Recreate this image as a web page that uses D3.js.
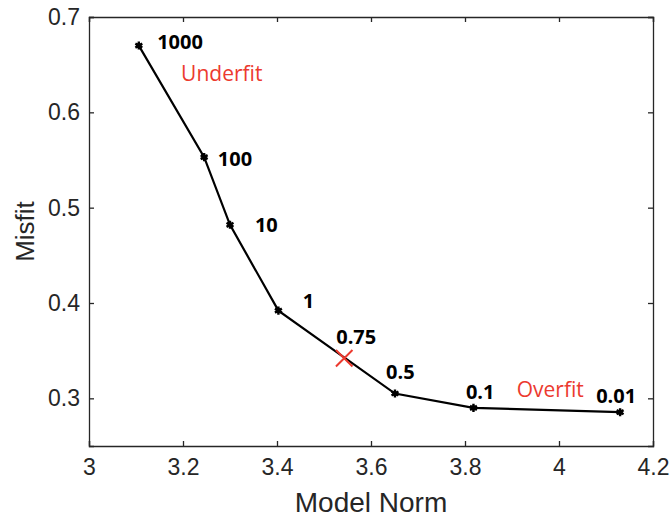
<!DOCTYPE html>
<html>
<head>
<meta charset="utf-8">
<script src="https://cdn.jsdelivr.net/npm/d3@7"></script>
<style>
    body { margin: 0; background: #fff; }
    svg { display: block; }
</style>
</head>
<body>
<div id="chart"></div>
<script>
// L-curve values (model norm vs misfit), one per regularisation weight
var lambdas = ["1000", "100", "10", "1", "0.5", "0.1", "0.01"];
var modelNorm = [3.106, 3.245, 3.300, 3.403, 3.651, 3.818, 4.130];
var misfit = [0.670, 0.553, 0.482, 0.392, 0.305, 0.290, 0.2855];

// chosen point
var chosenLabel = "0.75";
var chosenNorm = 3.543;
var chosenMisfit = 0.342;

// text annotations, placed in data coordinates
var noteText = ["1000", "Underfit", "100", "10", "1", "0.75", "0.5", "0.1", "Overfit", "0.01"];
var noteX = [3.145, 3.196, 3.274, 3.353, 3.455, 3.526, 3.632, 3.802, 3.910, 4.079];
var noteY = [0.666, 0.633, 0.544, 0.475, 0.395, 0.357, 0.320, 0.2996, 0.3017, 0.2954];
var noteRed = [false, true, false, false, false, false, false, false, true, false];

var xTicks = [3, 3.2, 3.4, 3.6, 3.8, 4, 4.2];
var yTicks = [0.3, 0.4, 0.5, 0.6, 0.7];

function draw() {
    var w = 671, h = 518;
    var left = 89, right = 653, top = 17, bottom = 446;
    var axisColor = "#262626";

    var svg = d3.select("#chart").append("svg")
        .attr("width", w)
        .attr("height", h);

    var xScale = d3.scaleLinear().domain([3, 4.2]).range([left, right]);
    var yScale = d3.scaleLinear().domain([0.25, 0.7]).range([bottom, top]);

    // axes with inward ticks (box style)
    var tickLen = 5;
    var xAxis = d3.axisBottom(xScale).tickValues(xTicks).tickSize(-tickLen).tickPadding(13)
        .tickFormat(d3.format("~g"));
    var yAxis = d3.axisLeft(yScale).tickValues(yTicks).tickSize(-tickLen).tickPadding(9)
        .tickFormat(d3.format(".1f"));
    var xTop = d3.axisTop(xScale).tickValues(xTicks).tickSize(-tickLen).tickFormat("");
    var yRight = d3.axisRight(yScale).tickValues(yTicks).tickSize(-tickLen).tickFormat("");

    var gx = svg.append("g").attr("transform", "translate(0," + bottom + ")").call(xAxis);
    var gy = svg.append("g").attr("transform", "translate(" + left + ",0)").call(yAxis);
    var gt = svg.append("g").attr("transform", "translate(0," + top + ")").call(xTop);
    var gr = svg.append("g").attr("transform", "translate(" + right + ",0)").call(yRight);

    [gx, gy, gt, gr].forEach(function (g) {
        g.select(".domain").attr("stroke", axisColor).attr("stroke-width", 1.3);
        g.selectAll(".tick line").attr("stroke", axisColor).attr("stroke-width", 1.3);
        g.selectAll(".tick text")
            .attr("fill", axisColor)
            .style("font-family", "Liberation Sans, Arial, sans-serif")
            .style("font-size", "23px");
    });
    gx.selectAll(".tick text").attr("dy", "0.71em");

    // axis labels
    svg.append("text")
        .attr("x", (left + right) / 2)
        .attr("y", 512)
        .attr("text-anchor", "middle")
        .attr("fill", axisColor)
        .style("font-family", "Liberation Sans, Arial, sans-serif")
        .style("font-size", "28px")
        .text("Model Norm");

    svg.append("text")
        .attr("transform", "translate(34," + ((top + bottom) / 2) + ") rotate(-90)")
        .attr("text-anchor", "middle")
        .attr("fill", axisColor)
        .style("font-family", "Liberation Sans, Arial, sans-serif")
        .style("font-size", "26px")
        .text("Misfit");

    // curve
    var pts = modelNorm.map(function (d, i) { return [d, misfit[i]]; });
    var line = d3.line()
        .x(function (d) { return xScale(d[0]); })
        .y(function (d) { return yScale(d[1]); });

    svg.append("path")
        .datum(pts)
        .attr("d", line)
        .attr("fill", "none")
        .attr("stroke", "#000")
        .attr("stroke-width", 2.2);

    // asterisk markers
    var star = d3.symbol().type(d3.symbolAsterisk).size(45);
    svg.selectAll(".mk")
        .data(pts)
        .enter()
        .append("path")
        .attr("class", "mk")
        .attr("transform", function (d) { return "translate(" + xScale(d[0]) + "," + yScale(d[1]) + ")"; })
        .attr("d", star)
        .attr("fill", "none")
        .attr("stroke", "#000")
        .attr("stroke-width", 2.4);

    svg.selectAll(".dot")
        .data(pts)
        .enter()
        .append("circle")
        .attr("cx", function (d) { return xScale(d[0]); })
        .attr("cy", function (d) { return yScale(d[1]); })
        .attr("r", 2.6)
        .attr("fill", "#000");

    // chosen point
    svg.append("path")
        .attr("transform", "translate(" + xScale(chosenNorm) + "," + yScale(chosenMisfit) + ")")
        .attr("d", d3.symbol().type(d3.symbolX).size(180))
        .attr("fill", "none")
        .attr("stroke", "#ec3a2f")
        .attr("stroke-width", 2);

    // annotations
    svg.selectAll(".note")
        .data(noteText)
        .enter()
        .append("text")
        .attr("class", "note")
        .attr("x", function (d, i) { return xScale(noteX[i]); })
        .attr("y", function (d, i) { return yScale(noteY[i]); })
        .attr("fill", function (d, i) { return noteRed[i] ? "#ec3a2f" : "#000"; })
        .style("font-family", "Open Sans, sans-serif")
        .style("font-weight", function (d, i) { return noteRed[i] ? "normal" : "bold"; })
        .style("font-size", function (d, i) { return noteRed[i] ? "21px" : "20px"; })
        .text(function (d) { return d; });
}

window.onload = draw;
</script>
</body>
</html>
